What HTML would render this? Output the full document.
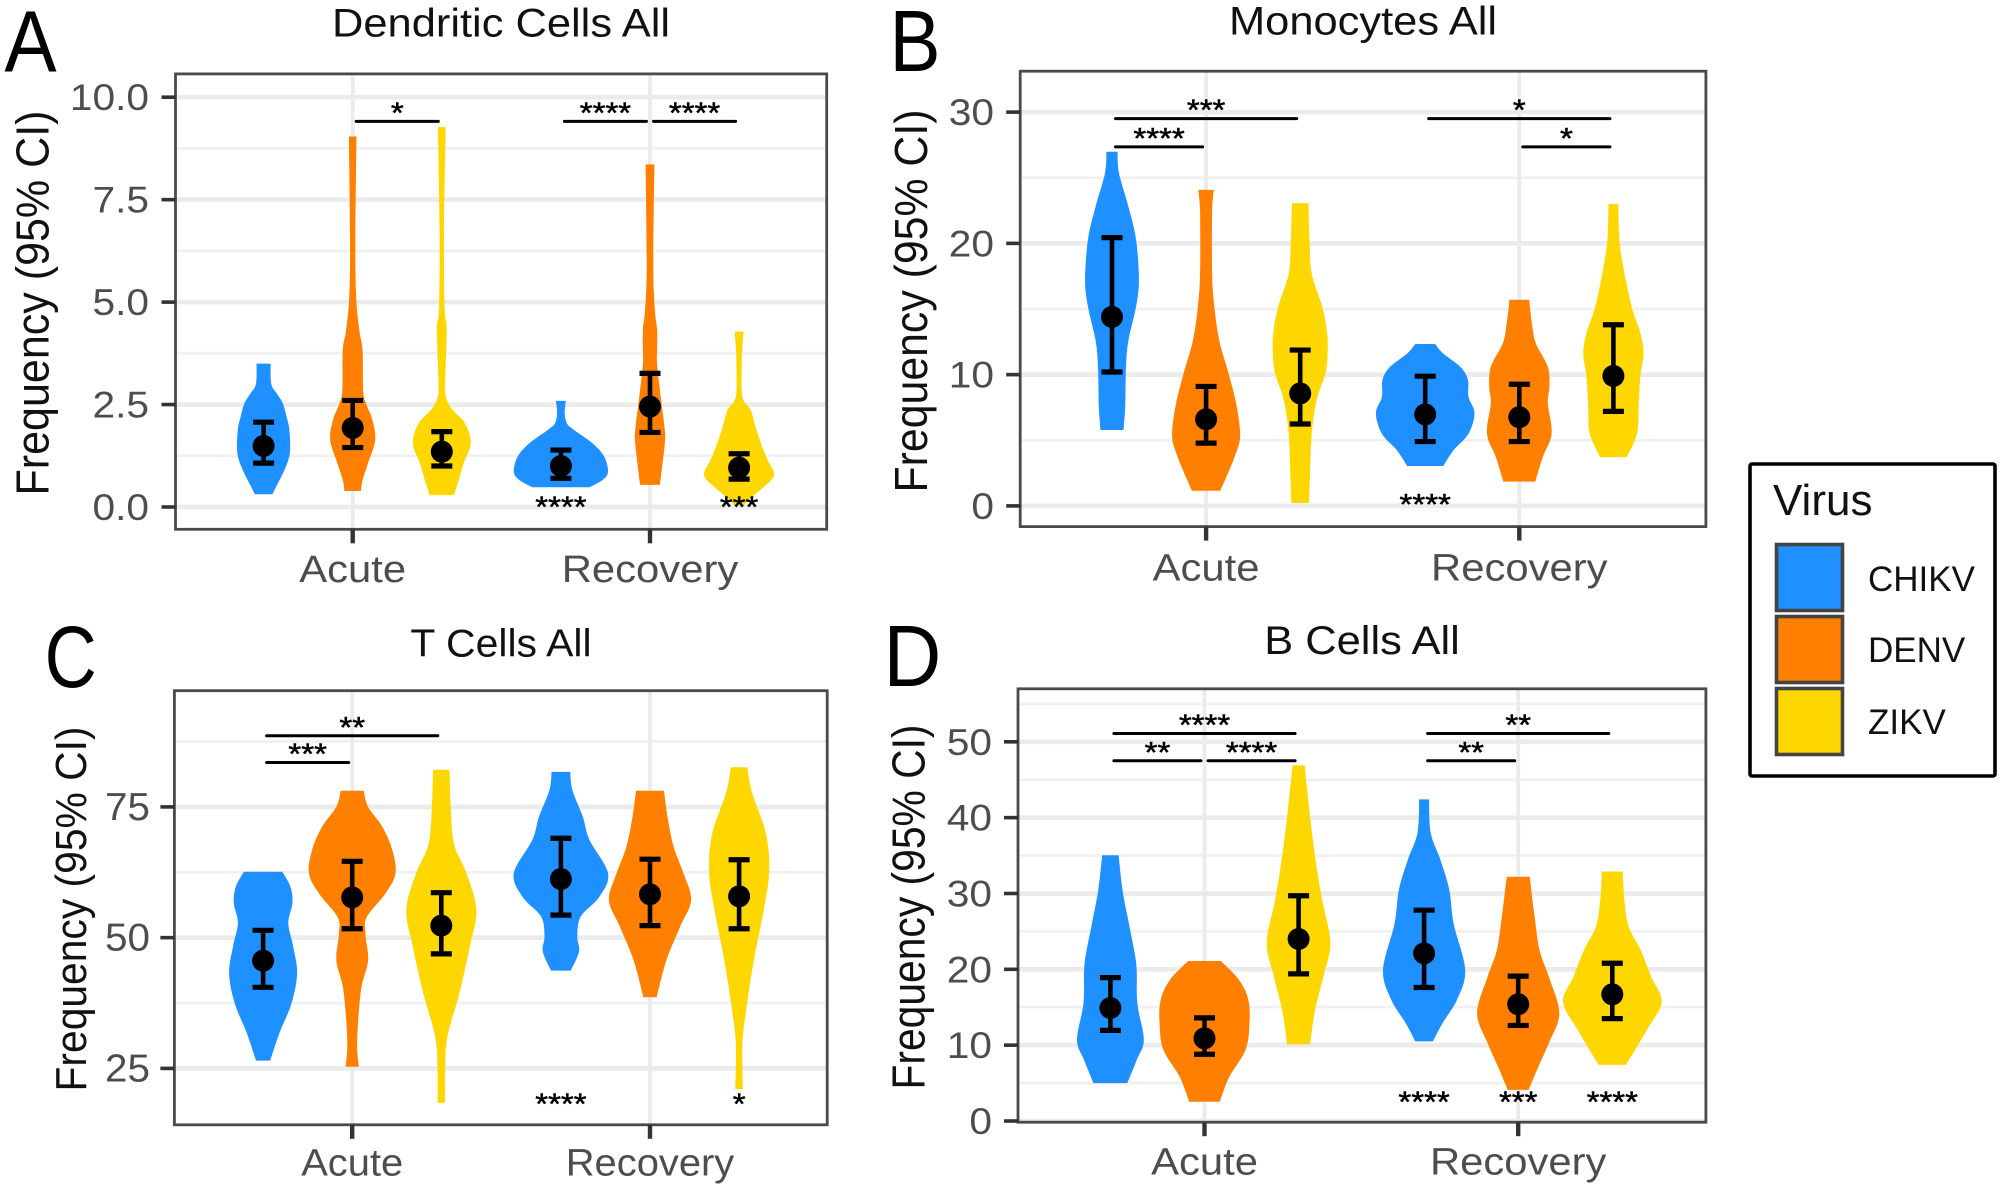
<!DOCTYPE html>
<html lang="en">
<head>
<meta charset="utf-8">
<title>Immune cell frequencies by virus</title>
<style>
html,body{margin:0;padding:0;background:#fff;}
svg{display:block;font-family:"Liberation Sans",sans-serif;}
</style>
</head>
<body>
<svg id="figure" width="2001" height="1190" viewBox="0 0 2001 1190" xmlns="http://www.w3.org/2000/svg">
  <rect x="0" y="0" width="2001" height="1190" fill="#fff"/>
  <text transform="translate(4.4,71.6) scale(0.9,1)" font-size="87" fill="#000">A</text>
  <text transform="translate(889.5,70.8) scale(0.88,1)" font-size="87" fill="#000">B</text>
  <text transform="translate(44.6,687) scale(0.83,1)" font-size="87" fill="#000">C</text>
  <text transform="translate(883.5,685.8) scale(0.92,1)" font-size="87" fill="#000">D</text>
  <g>
    <rect x="1750" y="464" width="245" height="312" rx="2" fill="#fff" stroke="#000" stroke-width="3.6"/>
    <text x="1773" y="515" font-size="44" fill="#111">Virus</text>
    <rect x="1776.5" y="544.5" width="66" height="66" fill="#1E90FF" stroke="#444" stroke-width="3.6"/>
    <rect x="1776.5" y="616.5" width="66" height="66" fill="#FF7F00" stroke="#444" stroke-width="3.6"/>
    <rect x="1776.5" y="688.5" width="66" height="66" fill="#FFD700" stroke="#444" stroke-width="3.6"/>
    <text x="1868" y="591" font-size="35" fill="#111">CHIKV</text>
    <text x="1868" y="662" font-size="35" fill="#111">DENV</text>
    <text x="1868" y="734" font-size="35" fill="#111">ZIKV</text>
  </g>
</svg>
<script>
const phases = ['Acute', 'Recovery'];
const viruses = ['CHIKV', 'DENV', 'ZIKV'];
const virusColors = ['#1E90FF', '#FF7F00', '#FFD700'];

/* Panel A: Dendritic cells */
const dcMajorTicks = [0, 2.5, 5, 7.5, 10];
const dcTickLabels = ['0.0', '2.5', '5.0', '7.5', '10.0'];
const dcMinorTicks = [1.25, 3.75, 6.25, 8.75];
const dcMeans = [1.49, 1.93, 1.35, 1.0, 2.45, 0.96];
const dcLower = [1.07, 1.45, 1.0, 0.7, 1.82, 0.68];
const dcUpper = [2.07, 2.6, 1.84, 1.39, 3.26, 1.3];
const dcProfileValues = [
  [3.5, 3.0, 2.77, 2.53, 2.2, 1.88, 1.32, 0.9, 0.5, 0.31],
  [9.04, 6.77, 5.2, 4.32, 3.83, 2.85, 2.53, 2.12, 1.63, 1.07, 0.66, 0.39],
  [9.27, 6.77, 4.9, 4.3, 3.03, 2.66, 2.37, 2.05, 1.56, 1.07, 0.66, 0.29],
  [2.59, 2.29, 2.04, 1.88, 1.55, 1.23, 0.86, 0.66, 0.48],
  [8.36, 5.84, 4.8, 4.32, 3.83, 3.5, 2.69, 1.88, 1.55, 1.07, 0.54],
  [4.28, 3.91, 3.5, 2.69, 2.37, 1.96, 1.55, 1.15, 0.78, 0.5, 0.25, 0.05]
];
const dcProfileDensity = [
  [12.8, 14, 24, 35, 42, 47, 48, 38, 23, 16],
  [7, 5, 6, 12, 18, 19, 24, 36, 41, 28, 18, 15],
  [7, 4, 5, 9, 6, 8, 19.5, 42, 53, 40, 31, 22],
  [9, 7, 11, 24, 58, 79, 86, 76, 52],
  [8, 6, 9, 13, 13, 13, 19.5, 27, 27, 23, 18],
  [8, 6, 5, 6, 21, 30, 40, 52, 64, 46, 24, 9]
];
const dcBrackets = [[1, 2, 9.41, '*'], [3, 4, 9.41, '****'], [4, 5, 9.41, '****']];
const dcBottomStars = [[3, 0.07, '****'], [5, 0.07, '***']];

/* Panel B: Monocytes */
const moMajorTicks = [0, 10, 20, 30];
const moTickLabels = ['0', '10', '20', '30'];
const moMinorTicks = [5, 15, 25];
const moMeans = [14.4, 6.6, 8.57, 6.97, 6.76, 9.9];
const moLower = [10.2, 4.78, 6.24, 4.9, 4.9, 7.2];
const moUpper = [20.44, 9.1, 11.87, 9.88, 9.27, 13.8];
const moProfileValues = [
  [26.98, 25.3, 22.8, 20.26, 17.2, 15.2, 12.6, 10.6, 7.56, 5.78],
  [24.07, 22.3, 17.7, 15.2, 12.6, 10.1, 7.56, 5.27, 3.75, 2.5, 1.16],
  [23.07, 20.26, 17.7, 15.2, 13.2, 11.6, 10.1, 8.07, 5.5, 2.5, 0.22],
  [12.33, 11.6, 10.6, 9.6, 8.3, 7.07, 5.5, 4.26, 3.04],
  [15.7, 13.9, 12.4, 10.6, 9.08, 7.8, 5.5, 3.75, 1.85],
  [23, 20.26, 18.2, 15.2, 13.2, 11.6, 9.84, 7.56, 5.5, 3.7]
];
const moProfileDensity = [
  [10, 13, 30, 44, 49, 44, 30, 25.5, 24, 21],
  [14, 11, 11, 15, 24, 41, 56, 62, 52, 40, 26],
  [15, 17, 21, 40, 49, 50, 46, 30, 21, 18, 16],
  [18, 33, 64, 78, 79, 90, 79, 52, 33],
  [18, 23, 30, 52, 55, 52, 59, 43, 29],
  [9, 11, 18, 33, 49, 55, 49, 46, 43, 24]
];
const moBrackets = [[0, 2, 29.5, '***'], [0, 1, 27.35, '****'], [3, 5, 29.5, '*'], [4, 5, 27.35, '*']];
const moBottomStars = [[3, 0.35, '****']];

/* Panel C: T cells */
const tcMajorTicks = [25, 50, 75];
const tcTickLabels = ['25', '50', '75'];
const tcMinorTicks = [37.5, 62.5, 87.5];
const tcMeans = [45.6, 57.7, 52.3, 61.2, 58.3, 57.9];
const tcLower = [40.5, 51.7, 46.9, 54.3, 52.3, 51.7];
const tcUpper = [51.4, 64.6, 58.6, 69, 65, 64.9];
const tcProfileValues = [
  [62.6, 59.7, 56.6, 52.8, 48.3, 43.2, 37.5, 31.8, 26.5],
  [78.1, 75, 71.2, 66.8, 62.3, 58.5, 54, 50.9, 45.7, 40.6, 34.3, 29.1, 25.3],
  [82.1, 75.7, 68, 62.3, 55.3, 48.3, 39.4, 31, 24.7, 18.4],
  [81.7, 78.2, 73.1, 68.7, 62.3, 57.8, 54, 50.2, 47.3, 43.7],
  [78.1, 73.1, 67.4, 62.3, 57.2, 52.1, 45.7, 38.6],
  [82.6, 77.6, 69.9, 62.9, 55.9, 45.7, 36.2, 29.8, 21]
];
const tcProfileDensity = [
  [35, 50, 53.5, 46, 55, 62, 52, 30, 13],
  [21, 29, 55, 73, 79, 61, 27, 24, 29, 17, 11, 9, 12],
  [15, 17, 23, 46, 64, 52, 33, 11, 7, 7],
  [17, 21, 40, 52, 86, 70, 36, 30, 33, 18],
  [25.5, 32, 43, 61, 75, 55, 30, 12],
  [15, 24, 49, 55, 46, 27, 13, 6, 7]
];
const tcBrackets = [[0, 2, 88.6, '**'], [0, 1, 83.5, '***']];
const tcBottomStars = [[3, 18.8, '****'], [5, 18.8, '*']];

/* Panel D: B cells */
const bcMajorTicks = [0, 10, 20, 30, 40, 50];
const bcTickLabels = ['0', '10', '20', '30', '40', '50'];
const bcMinorTicks = [5, 15, 25, 35, 45, 55];
const bcMeans = [14.9, 10.9, 24, 22.1, 15.4, 16.7];
const bcLower = [11.95, 8.8, 19.4, 17.6, 12.6, 13.5];
const bcUpper = [18.9, 13.6, 29.7, 27.8, 19.1, 20.8];
const bcProfileValues = [
  [35.03, 30.5, 26.1, 20.8, 15.6, 10.7, 8.04, 5],
  [21.1, 18.6, 16, 12.9, 9.4, 5.8, 2.55],
  [46.9, 40.1, 34.4, 29.1, 23.5, 19, 14.6, 10.1],
  [42.4, 38, 34.4, 30.5, 26, 19.9, 16, 12.9, 10.5],
  [32.2, 26.9, 22.5, 19, 14.2, 10.3, 7.2, 4.1],
  [32.9, 29.1, 25.6, 22.5, 19, 15.7, 12, 7.4]
];
const bcProfileDensity = [
  [15, 22, 33.5, 47, 49, 61, 48, 31],
  [30, 63, 80, 82, 75, 45, 28],
  [11, 21, 31, 43, 58, 45, 30, 21],
  [9, 12, 30, 46, 54, 75, 60, 33.5, 16],
  [21, 30, 39, 56, 75, 56, 37, 19],
  [19, 22, 30, 52, 71, 90, 63, 25]
];
const bcBrackets = [[0, 2, 51.1, '****'], [0, 1, 47.5, '**'], [1, 2, 47.5, '****'], [3, 5, 51.1, '**'], [3, 4, 47.5, '**']];
const bcBottomStars = [[3, 2.9, '****'], [4, 2.9, '***'], [5, 2.9, '****']];

const SVGNS = 'http://www.w3.org/2000/svg';
const figure = document.getElementById('figure');
function make(tag, attrs, parent) {
  const node = document.createElementNS(SVGNS, tag);
  for (const k in attrs) node.setAttribute(k, attrs[k]);
  parent.appendChild(node);
  return node;
}
function label(str, x, y, size, color, anchor, sx, parent) {
  const node = make('text', {
    transform: 'translate(' + x + ',' + y + ') scale(' + sx + ',1)',
    'font-size': size, fill: color, 'text-anchor': anchor
  }, parent);
  node.textContent = str;
  return node;
}
function sideCurve(pts) {
  let d = '';
  for (let i = 0; i < pts.length - 1; i++) {
    const p0 = pts[Math.max(i - 1, 0)], p1 = pts[i], p2 = pts[i + 1], p3 = pts[Math.min(i + 2, pts.length - 1)];
    d += 'C' + (p1[0] + (p2[0] - p0[0]) / 6).toFixed(1) + ' ' + (p1[1] + (p2[1] - p0[1]) / 6).toFixed(1) + ' ' +
         (p2[0] - (p3[0] - p1[0]) / 6).toFixed(1) + ' ' + (p2[1] - (p3[1] - p1[1]) / 6).toFixed(1) + ' ' +
         p2[0].toFixed(1) + ' ' + p2[1].toFixed(1);
  }
  return d;
}

function drawPanel(p) {
  const yScale = v => p.py0 + (v - p.v0) * (p.py1 - p.py0) / (p.v1 - p.v0);
  const groupX = g => p.groupPx[g];
  const slotX = s => groupX(Math.floor(s / 3)) + (s % 3 - 1) * p.slotStep;
  const widthScale = d => d * 0.548;
  const starDrop = 13;

  const g = make('g', {}, figure);
  
  

  const bg = make('rect', { x: p.left, y: p.top, width: p.right - p.left, height: p.bottom - p.top, fill: '#fff' }, g);
  
  

  p.minor.forEach(v => {
    const line = make('line', { x1: p.left, x2: p.right, y1: yScale(v), y2: yScale(v), stroke: '#f0f0f0', 'stroke-width': 2.8 }, g);
    
    
  });
  p.major.forEach(v => {
    const line = make('line', { x1: p.left, x2: p.right, y1: yScale(v), y2: yScale(v), stroke: '#ebebeb', 'stroke-width': 4.7 }, g);
    
    
  });
  phases.forEach((ph, i) => {
    const line = make('line', { x1: groupX(i), x2: groupX(i), y1: p.top, y2: p.bottom, stroke: '#ebebeb', 'stroke-width': 3.8 }, g);
    
    
  });

  p.profileValues.forEach((vals, s) => {
    const cx = slotX(s);
    const dens = p.profileDensity[s];
    const right = vals.map((v, i) => [cx + widthScale(dens[i]), yScale(v)]);
    const left = vals.map((v, i) => [cx - widthScale(dens[i]), yScale(v)]).reverse();
    const d = 'M' + left[left.length - 1][0].toFixed(1) + ' ' + right[0][1].toFixed(1) +
      'L' + right[0][0].toFixed(1) + ' ' + right[0][1].toFixed(1) + sideCurve(right) +
      'L' + left[0][0].toFixed(1) + ' ' + left[0][1].toFixed(1) + sideCurve(left) + 'Z';
    const violin = make('path', { d: d, fill: virusColors[s % 3] }, g);
    
    
  });

  p.means.forEach((m, s) => {
    const cx = slotX(s);
    const stem = make('line', { x1: cx, x2: cx, y1: yScale(p.lower[s]), y2: yScale(p.upper[s]), stroke: '#000', 'stroke-width': 4.6 }, g);
    
    
    const capLow = make('line', { x1: cx - 10.5, x2: cx + 10.5, y1: yScale(p.lower[s]), y2: yScale(p.lower[s]), stroke: '#000', 'stroke-width': 5.2 }, g);
    
    
    const capHigh = make('line', { x1: cx - 10.5, x2: cx + 10.5, y1: yScale(p.upper[s]), y2: yScale(p.upper[s]), stroke: '#000', 'stroke-width': 5.2 }, g);
    
    
    const dot = make('ellipse', { cx: cx, cy: yScale(m), rx: 11, ry: 11, fill: '#000' }, g);
    
    
  });

  p.brackets.forEach(b => {
    const x1 = slotX(b[0]) + 3.5, x2 = slotX(b[1]) - 3.5, y = yScale(b[2]);
    const line = make('line', { x1: x1, x2: x2, y1: y, y2: y, stroke: '#000', 'stroke-width': 3, 'stroke-linecap': 'round' }, g);
    
    
    const star = label(b[3], (x1 + x2) / 2, y - 11.5 + starDrop, 30, '#000', 'middle', 1.1, g);
    star.setAttribute('stroke', '#000');
    star.setAttribute('stroke-width', '0.5');
    
    
  });
  p.bottomStars.forEach(b => {
    const star = label(b[2], slotX(b[0]), yScale(b[1]) + starDrop, 30, '#000', 'middle', 1.1, g);
    star.setAttribute('stroke', '#000');
    star.setAttribute('stroke-width', '0.5');
    
    
  });

  const frame = make('rect', { x: p.left, y: p.top, width: p.right - p.left, height: p.bottom - p.top, fill: 'none', stroke: '#4a4a4a', 'stroke-width': 2.8 }, g);
  
  

  p.major.forEach((v, i) => {
    const tick = make('line', { x1: p.left - 14, x2: p.left, y1: yScale(v), y2: yScale(v), stroke: '#333', 'stroke-width': 3.6 }, g);
    
    
    const txt = label(p.tickLabels[i], p.tickRight, yScale(v) + 13, p.tickSize, '#4d4d4d', 'end', p.sx, g);
    
    
  });
  phases.forEach((ph, i) => {
    const tick = make('line', { x1: groupX(i), x2: groupX(i), y1: p.bottom, y2: p.bottom + 14, stroke: '#333', 'stroke-width': 4.4 }, g);
    
    
    const txt = label(ph, groupX(i), p.xLabelY, 38, '#4d4d4d', 'middle', p.sx, g);
    
    
  });

  const title = label(p.title, p.titleX, p.titleY, p.titleSize, '#111', 'middle', p.sx, g);
  
  

  const yTitle = make('text', {
    transform: 'translate(' + p.yTitleX + ',' + p.yTitleY + ') rotate(-90)',
    'font-size': p.yTitleSize, fill: '#111', 'text-anchor': 'middle',
    textLength: p.yTitleLen, lengthAdjust: 'spacingAndGlyphs'
  }, g);
  yTitle.textContent = 'Frequency (95% CI)';
  
  
}

drawPanel({
  key: 'dendritic', title: 'Dendritic Cells All',
  left: 175.5, right: 826.7, top: 73.9, bottom: 529.3, v0: 0, py0: 507, v1: 10, py1: 97.2,
  groupPx: [352.7, 650], slotStep: 89.1, sx: 1.1, tickSize: 37, tickRight: 149, xLabelY: 582,
  titleX: 501, titleY: 36.3, titleSize: 39.5, yTitleX: 48.3, yTitleY: 303, yTitleSize: 46, yTitleLen: 385,
  major: dcMajorTicks, tickLabels: dcTickLabels, minor: dcMinorTicks, means: dcMeans, lower: dcLower, upper: dcUpper,
  profileValues: dcProfileValues, profileDensity: dcProfileDensity, brackets: dcBrackets, bottomStars: dcBottomStars
});
drawPanel({
  key: 'monocytes', title: 'Monocytes All',
  left: 1020.2, right: 1705.9, top: 71.2, bottom: 526.6, v0: 0, py0: 505.9, v1: 30, py1: 112.1,
  groupPx: [1206.1, 1519.3], slotStep: 94.1, sx: 1.1, tickSize: 37, tickRight: 994, xLabelY: 580.6,
  titleX: 1363, titleY: 34.4, titleSize: 39.5, yTitleX: 926.9, yTitleY: 301, yTitleSize: 46, yTitleLen: 383,
  major: moMajorTicks, tickLabels: moTickLabels, minor: moMinorTicks, means: moMeans, lower: moLower, upper: moUpper,
  profileValues: moProfileValues, profileDensity: moProfileDensity, brackets: moBrackets, bottomStars: moBottomStars
});
drawPanel({
  key: 't-cells', title: 'T Cells All',
  left: 174.4, right: 827.2, top: 690.7, bottom: 1124.8, v0: 25, py0: 1068.4, v1: 75, py1: 806.9,
  groupPx: [352.2, 650], slotStep: 89.1, sx: 1.05, tickSize: 38.5, tickRight: 150, xLabelY: 1175.6,
  titleX: 501, titleY: 656.4, titleSize: 39, yTitleX: 86, yTitleY: 909, yTitleSize: 44, yTitleLen: 365,
  major: tcMajorTicks, tickLabels: tcTickLabels, minor: tcMinorTicks, means: tcMeans, lower: tcLower, upper: tcUpper,
  profileValues: tcProfileValues, profileDensity: tcProfileDensity, brackets: tcBrackets, bottomStars: tcBottomStars
});
drawPanel({
  key: 'b-cells', title: 'B Cells All',
  left: 1018, right: 1705.9, top: 688.8, bottom: 1122.2, v0: 0, py0: 1121, v1: 50, py1: 741.8,
  groupPx: [1204.5, 1518.2], slotStep: 94.1, sx: 1.1, tickSize: 37, tickRight: 992, xLabelY: 1174.5,
  titleX: 1362, titleY: 653.8, titleSize: 39.5, yTitleX: 924.7, yTitleY: 907, yTitleSize: 46, yTitleLen: 365,
  major: bcMajorTicks, tickLabels: bcTickLabels, minor: bcMinorTicks, means: bcMeans, lower: bcLower, upper: bcUpper,
  profileValues: bcProfileValues, profileDensity: bcProfileDensity, brackets: bcBrackets, bottomStars: bcBottomStars
});
</script>
</body>
</html>
